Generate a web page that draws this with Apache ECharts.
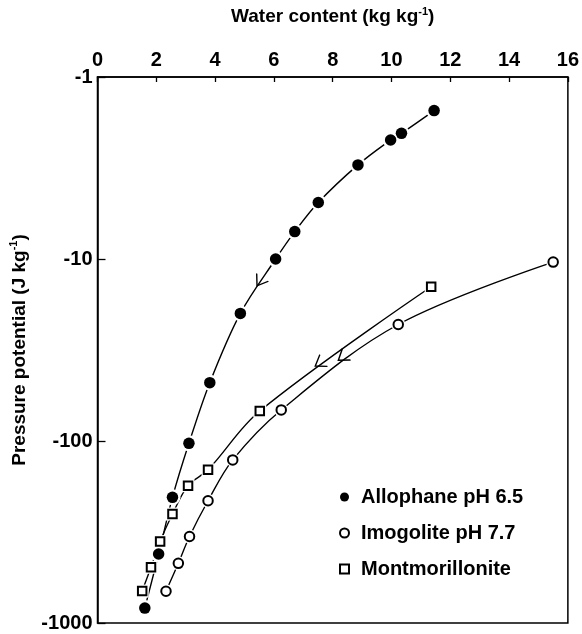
<!DOCTYPE html>
<html><head><meta charset="utf-8">
<script src="https://cdn.jsdelivr.net/npm/echarts@6/dist/echarts.min.js"></script>
<style>html,body{margin:0;padding:0;background:#fff}#c{width:582px;height:634px}</style>
</head><body><div id="c"></div>
<script>
// Water content (kg kg-1) and pressure potential (J kg-1)
const allophaneW = [11.45, 10.34, 9.97, 8.86, 7.51, 6.71, 6.06, 4.86, 3.82, 3.11, 2.55, 2.08, 1.61];
const allophaneP = [-1.53, -2.04, -2.22, -3.04, -4.89, -7.07, -10.0, -19.9, -47.8, -103, -204, -418, -828];
const imogoliteW = [15.50, 10.23, 6.25, 4.60, 3.76, 3.13, 2.75, 2.33];
const imogoliteP = [-10.4, -22.9, -67.5, -127, -213, -335, -470, -669];
const montW = [11.35, 5.52, 3.76, 3.08, 2.55, 2.13, 1.82, 1.52];
const montP = [-14.2, -68.4, -144, -176, -252, -357, -494, -668];
const seriesNames = ['Allophane pH 6.5', 'Imogolite pH 7.7', 'Montmorillonite'];
const xTicks = [0, 2, 4, 6, 8, 10, 12, 14, 16];
const yTicks = [-1, -10, -100, -1000];
// arrow positions on curves
const arrowW = [5.52, 7.55, 8.33];
const arrowP = [-13.3, -37.4, -34.7];
const arrowRot = [-33.5, -57, -54];

const FONT = 'Liberation Sans';
const pts = (w, p) => w.map((v, i) => [v, Math.abs(p[i])]);
const arrowMark = i => ({
  symbol: 'path://M0,0L10,12L20,0',
  symbolSize: [14, 10],
  label: {show: false},
  silent: true,
  data: [{coord: [arrowW[i], Math.abs(arrowP[i])], symbolRotate: arrowRot[i],
    itemStyle: {color: 'none', borderColor: '#000', borderWidth: 1.3}}]
});
const lineS = (data, i) => ({
  type: 'line', name: 'curve' + i, data, smooth: 0.35, symbol: 'none', silent: true, z: 2,
  lineStyle: {color: '#000', width: 1.4}, markPoint: arrowMark(i)
});
const haloS = (data, size, sym) => ({
  type: 'scatter', name: 'halo', data, symbol: sym, symbolSize: size, silent: true, z: 3,
  itemStyle: {color: '#fff', opacity: 1}
});
const ptsA = pts(allophaneW, allophaneP), ptsI = pts(imogoliteW, imogoliteP), ptsM = pts(montW, montP);
const supStyle = {fontFamily: FONT, fontWeight: 'bold', fontSize: 11, verticalAlign: 'top', lineHeight: 22, color: '#000'};

const chart = echarts.init(document.getElementById('c'));
chart.setOption({
  animation: false,
  backgroundColor: '#fff',
  textStyle: {fontFamily: FONT, color: '#000'},
  grid: {left: 97.5, right: 10, top: 77, bottom: 11, show: true, borderColor: '#000', borderWidth: 1.5},
  legend: {
    data: seriesNames, orient: 'vertical', left: 334, top: 482, itemGap: 16,
    itemWidth: 9, itemHeight: 9,
    textStyle: {fontFamily: FONT, fontWeight: 'bold', fontSize: 20, color: '#000', padding: [0, 0, 0, 7]}
  },
  xAxis: {
    type: 'value', position: 'top', min: xTicks[0], max: xTicks[xTicks.length - 1], interval: 2,
    name: 'Water content (kg kg{sup|-1})', nameLocation: 'middle', nameGap: 49,
    nameTextStyle: {fontFamily: FONT, fontWeight: 'bold', fontSize: 19, color: '#000', lineHeight: 22,
      rich: {sup: supStyle}},
    axisLine: {lineStyle: {color: '#000', width: 1.5}},
    axisTick: {inside: true, length: 5, lineStyle: {color: '#000', width: 1.3}},
    axisLabel: {fontFamily: FONT, fontWeight: 'bold', fontSize: 20, color: '#000', margin: 7},
    splitLine: {show: false}
  },
  yAxis: {
    type: 'log', logBase: 10, min: Math.abs(yTicks[0]), max: Math.abs(yTicks[yTicks.length - 1]), inverse: true,
    name: 'Pressure potential (J kg{sup|-1})', nameLocation: 'middle', nameGap: 66, nameRotate: 90,
    nameTextStyle: {fontFamily: FONT, fontWeight: 'bold', fontSize: 19, color: '#000', lineHeight: 22,
      rich: {sup: supStyle}},
    axisLine: {lineStyle: {color: '#000', width: 1.5}},
    axisTick: {inside: true, length: 8, lineStyle: {color: '#000', width: 1.3}},
    minorTick: {show: false},
    axisLabel: {fontFamily: FONT, fontWeight: 'bold', fontSize: 20, color: '#000', margin: 5,
      formatter: v => '-' + v},
    splitLine: {show: false}
  },
  series: [
    lineS(ptsA, 0), lineS(ptsI, 1), lineS(ptsM, 2),
    haloS(ptsA, 16, 'circle'), haloS(ptsI, 14, 'circle'), haloS(ptsM, 13, 'rect'),
    {type: 'scatter', name: seriesNames[0], data: ptsA, symbol: 'circle', symbolSize: 11.5, z: 4,
      itemStyle: {color: '#000', opacity: 1}},
    {type: 'scatter', name: seriesNames[1], data: ptsI, symbol: 'circle', symbolSize: 9.5, z: 4,
      itemStyle: {color: '#fff', borderColor: '#000', borderWidth: 2, opacity: 1}},
    {type: 'scatter', name: seriesNames[2], data: ptsM, symbol: 'rect', symbolSize: 8.5, z: 4,
      itemStyle: {color: '#fff', borderColor: '#000', borderWidth: 2, opacity: 1}}
  ]
});
</script></body></html>
